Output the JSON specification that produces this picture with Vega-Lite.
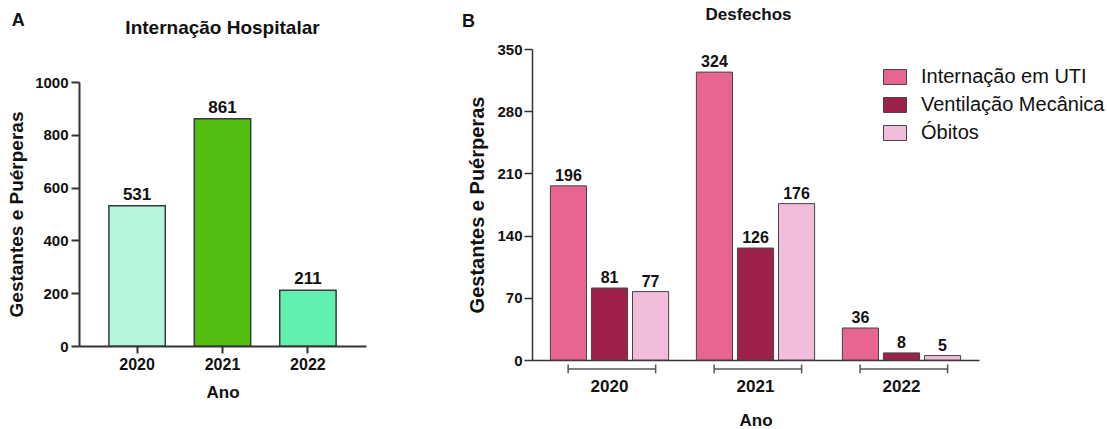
{
  "$schema": "https://vega.github.io/schema/vega-lite/v6.json",
  "background": "white",
  "padding": {"left": 7, "top": 6, "right": 5, "bottom": 0},
  "config": {
    "font": "Liberation Sans",
    "view": {"stroke": null},
    "axis": {"labelFont": "Liberation Sans", "labelFontWeight": "bold", "titleFont": "Liberation Sans", "titleFontWeight": "bold", "labelColor": "#111", "titleColor": "#111", "domainColor": "#333", "tickColor": "#333", "grid": false},
    "title": {"font": "Liberation Sans", "fontWeight": "bold", "color": "#111"},
    "concat": {"spacing": 95}
  },
  "resolve": {"scale": {"color": "independent"}, "legend": {"color": "independent"}},
  "datasets": {
    "internacao": [
      {"ano": "2020", "n": 531},
      {"ano": "2021", "n": 861},
      {"ano": "2022", "n": 211}
    ],
    "desfechos": [
      {"ano": "2020", "desfecho": "Internação em UTI", "n": 196},
      {"ano": "2020", "desfecho": "Ventilação Mecânica", "n": 81},
      {"ano": "2020", "desfecho": "Óbitos", "n": 77},
      {"ano": "2021", "desfecho": "Internação em UTI", "n": 324},
      {"ano": "2021", "desfecho": "Ventilação Mecânica", "n": 126},
      {"ano": "2021", "desfecho": "Óbitos", "n": 176},
      {"ano": "2022", "desfecho": "Internação em UTI", "n": 36},
      {"ano": "2022", "desfecho": "Ventilação Mecânica", "n": 8},
      {"ano": "2022", "desfecho": "Óbitos", "n": 5}
    ],
    "anos": [
      {"ano": "2020"},
      {"ano": "2021"},
      {"ano": "2022"}
    ]
  },
  "hconcat": [
    {
      "title": {"text": "A", "anchor": "start", "fontSize": 18, "offset": 0, "dy": 11, "dx": 4},
      "vconcat": [
        {
          "title": {"text": "Internação Hospitalar", "fontSize": 19, "offset": 11},
          "width": 287,
          "height": 297,
          "data": {"name": "internacao"},
          "encoding": {
            "x": {"field": "ano", "type": "nominal", "title": "Ano",
              "scale": {"paddingInner": 0.34, "paddingOuter": 0.35},
              "axis": {"labelAngle": 0, "labelFontSize": 16, "titleFontSize": 17, "tickSize": 7, "tickWidth": 2, "domainWidth": 2, "labelPadding": 3, "titlePadding": 12}},
            "y": {"field": "n", "type": "quantitative", "title": "Gestantes e Puérperas",
              "scale": {"domain": [0, 1000], "range": [297, 33]},
              "axis": {"values": [0, 200, 400, 600, 800, 1000], "format": "d", "labelFontSize": 15, "titleFontSize": 19, "tickSize": 8, "tickWidth": 2, "domainWidth": 2, "labelPadding": 3, "titlePadding": 8}}
          },
          "layer": [
            {"mark": {"type": "bar", "stroke": "#3a3a3a", "strokeWidth": 1.5},
              "encoding": {"color": {"field": "ano", "type": "nominal", "scale": {"domain": ["2020", "2021", "2022"], "range": ["#B5F5DC", "#52BE10", "#62F0B1"]}, "legend": null}}},
            {"mark": {"type": "text", "baseline": "alphabetic", "dy": -6, "fontSize": 17, "fontWeight": "bold", "color": "#111"},
              "encoding": {"text": {"field": "n", "type": "quantitative"}}}
          ]
        }
      ]
    },
    {
      "title": {"text": "B", "anchor": "start", "fontSize": 18, "offset": 0, "dy": 25, "dx": -6},
      "vconcat": [
        {
          "title": {"text": "Desfechos", "fontSize": 17, "offset": 18, "dx": -7},
          "width": 447,
          "height": 311,
          "encoding": {
            "x": {"field": "ano", "type": "nominal", "title": "Ano",
              "scale": {"paddingInner": 0.19, "paddingOuter": 0.126},
              "axis": {"labelAngle": 0, "ticks": false, "labelFontSize": 17, "titleFontSize": 17, "labelPadding": 18, "titlePadding": 18, "domainWidth": 1.5}}
          },
          "layer": [
            {"data": {"name": "desfechos"},
              "mark": {"type": "bar", "stroke": "#444", "strokeWidth": 1},
              "encoding": {
                "y": {"field": "n", "type": "quantitative", "title": "Gestantes e Puérperas",
                  "scale": {"domain": [0, 350]},
                  "axis": {"values": [0, 70, 140, 210, 280, 350], "labelFontSize": 15, "titleFontSize": 20, "tickSize": 8, "tickWidth": 1.5, "domainWidth": 1.5, "labelPadding": 2, "titlePadding": 9}},
                "xOffset": {"field": "desfecho", "type": "nominal", "sort": ["Internação em UTI", "Ventilação Mecânica", "Óbitos"], "scale": {"paddingInner": 0.12, "paddingOuter": 0}},
                "color": {"field": "desfecho", "type": "nominal", "sort": ["Internação em UTI", "Ventilação Mecânica", "Óbitos"],
                  "scale": {"domain": ["Internação em UTI", "Ventilação Mecânica", "Óbitos"], "range": ["#E86493", "#9E214B", "#F2BDDC"]},
                  "legend": {"title": null, "orient": "none", "legendX": 351, "legendY": 16, "symbolType": "M-1,-0.65H1V0.65H-1Z", "symbolSize": 529, "symbolStrokeColor": "#444", "symbolStrokeWidth": 1, "symbolOpacity": 1, "labelFontSize": 20, "labelFont": "Liberation Sans", "labelColor": "#111", "labelOffset": 14, "labelLimit": 400, "rowPadding": 6}}
              }},
            {"data": {"name": "desfechos"},
              "mark": {"type": "text", "baseline": "alphabetic", "dy": -5, "fontSize": 16, "fontWeight": "bold", "color": "#111"},
              "encoding": {
                "y": {"field": "n", "type": "quantitative", "title": "Gestantes e Puérperas"},
                "xOffset": {"field": "desfecho", "type": "nominal", "sort": ["Internação em UTI", "Ventilação Mecânica", "Óbitos"], "scale": {"paddingInner": 0.12, "paddingOuter": 0}},
                "text": {"field": "n", "type": "quantitative"}
              }},
            {"data": {"name": "anos"},
              "mark": {"type": "rule", "color": "#555", "strokeWidth": 1.5},
              "encoding": {
                "x": {"field": "ano", "type": "nominal", "bandPosition": 0.15},
                "x2": {"field": "ano", "bandPosition": 0.89},
                "y": {"datum": -10}
              }},
            {"data": {"name": "anos"},
              "mark": {"type": "rule", "color": "#555", "strokeWidth": 1.5},
              "encoding": {
                "x": {"field": "ano", "type": "nominal", "bandPosition": 0.15},
                "y": {"datum": -5},
                "y2": {"datum": -15}
              }},
            {"data": {"name": "anos"},
              "mark": {"type": "rule", "color": "#555", "strokeWidth": 1.5},
              "encoding": {
                "x": {"field": "ano", "type": "nominal", "bandPosition": 0.89},
                "y": {"datum": -5},
                "y2": {"datum": -15}
              }}
          ]
        }
      ]
    }
  ]
}
